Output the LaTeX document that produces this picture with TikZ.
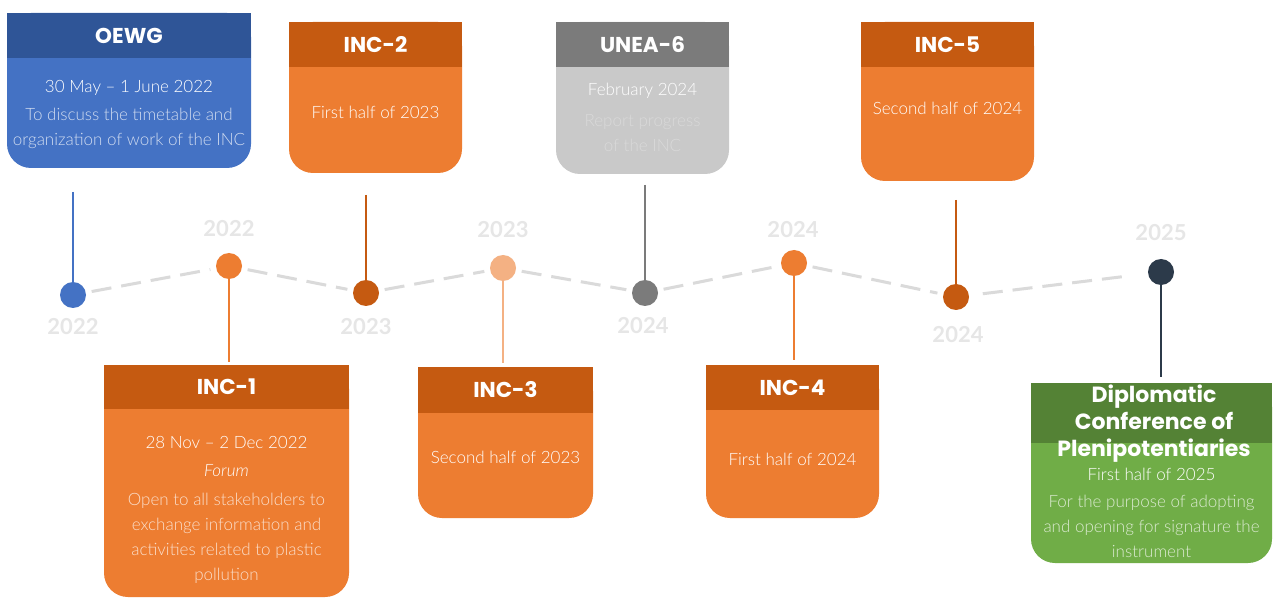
\documentclass[tikz,border=0pt]{standalone}
\usepackage{fontspec}
\setmainfont{Lato Light}[ItalicFont={Lato Light Italic}, BoldFont={Lato Bold}]
\newfontfamily\pop{Poppins}
\definecolor{blueH}{HTML}{2F5597}
\definecolor{blueB}{HTML}{4472C4}
\definecolor{orH}{HTML}{C55A11}
\definecolor{orB}{HTML}{ED7D31}
\definecolor{orL}{HTML}{F4B183}
\definecolor{grayH}{HTML}{7B7B7B}
\definecolor{grayB}{HTML}{C9C9C9}
\definecolor{greenH}{HTML}{548235}
\definecolor{greenB}{HTML}{70AD47}
\definecolor{navy}{HTML}{2C3A4A}
\definecolor{yeargray}{HTML}{E6E6E6}
\definecolor{dashgray}{HTML}{DADADA}
\tikzset{
  boxbody/.style={rounded corners=24pt, anchor=north west, inner sep=0pt, outer sep=0pt},
  boxhead/.style={anchor=north west, inner sep=0pt, outer sep=0pt, text=white,
    font=\pop\bfseries\fontsize{21.5}{24}\selectfont},
  txt/.style={text=white, font=\fontsize{17}{25}\selectfont, align=center, inner sep=0pt},
  faint/.style={txt, text opacity=0.75},
  year/.style={text=yeargray, font=\bfseries\fontsize{22}{22}\selectfont, inner sep=0pt},
  dot/.style={circle, minimum size=26pt, inner sep=0pt, outer sep=0pt},
  stem/.style={line width=2pt},
  dashline/.style={draw=dashgray, line width=3pt, dash pattern=on 20pt off 10pt,
    shorten <=6pt, shorten >=6pt}
}
\begin{document}
\begin{tikzpicture}[x=1pt, y=-1pt]
\useasboundingbox[fill=white] (0,0) rectangle (1273,601);

% ---------- top boxes ----------
% OEWG
\node[boxbody, fill=blueB, minimum width=244pt, minimum height=155pt] (oewgB) at (7,13) {};
\node[boxhead, fill=blueH, minimum width=244pt, minimum height=45pt] (oewgH) at (7,13) {OEWG};
\node[txt] (oewgT1) at (129,88) {30 May – 1 June 2022};
\node[faint] (oewgT2) at (129,128) {To discuss the timetable and\\organization of work of the INC};

% INC-2
\node[boxbody, fill=orB, minimum width=173pt, minimum height=151pt] (inc2B) at (289,22) {};
\node[boxhead, fill=orH, minimum width=173pt, minimum height=45pt] (inc2H) at (289,22) {INC-2};
\node[txt] (inc2T1) at (375.5,112) {First half of 2023};

% UNEA-6
\node[boxbody, fill=grayB, minimum width=173pt, minimum height=152pt] (uneaB) at (556,22) {};
\node[boxhead, fill=grayH, minimum width=173pt, minimum height=45pt] (uneaH) at (556,22) {UNEA-6};
\node[txt] (uneaT1) at (642.5,91) {February 2024};
\node[txt, text opacity=0.3] (uneaT2) at (642.5,133) {Report progress\\of the INC};

% INC-5
\node[boxbody, fill=orB, minimum width=173pt, minimum height=159pt] (inc5B) at (861,22) {};
\node[boxhead, fill=orH, minimum width=173pt, minimum height=45pt] (inc5H) at (861,22) {INC-5};
\node[txt] (inc5T1) at (947.5,108) {Second half of 2024};

% ---------- bottom boxes ----------
% INC-1
\node[boxbody, fill=orB, minimum width=245pt, minimum height=232pt] (inc1B) at (104,365) {};
\node[boxhead, fill=orH, minimum width=245pt, minimum height=44pt] (inc1H) at (104,365) {INC-1};
\node[txt] (inc1T1) at (226.5,442) {28 Nov – 2 Dec 2022};
\node[txt, font=\itshape\fontsize{17}{25}\selectfont] (inc1T2) at (226.5,471) {Forum};
\node[faint] (inc1T3) at (226.5,538) {Open to all stakeholders to\\exchange information and\\activities related to plastic\\pollution};

% INC-3
\node[boxbody, fill=orB, minimum width=175pt, minimum height=151pt] (inc3B) at (418,367) {};
\node[boxhead, fill=orH, minimum width=175pt, minimum height=46pt] (inc3H) at (418,367) {INC-3};
\node[txt] (inc3T1) at (505.5,457) {Second half of 2023};

% INC-4
\node[boxbody, fill=orB, minimum width=173pt, minimum height=153pt] (inc4B) at (706,365) {};
\node[boxhead, fill=orH, minimum width=173pt, minimum height=45pt] (inc4H) at (706,365) {INC-4};
\node[txt] (inc4T1) at (792.5,459) {First half of 2024};

% Diplomatic Conference
\node[boxbody, fill=greenB, minimum width=241pt, minimum height=180pt] (dipB) at (1031,383) {};
\node[boxhead, fill=greenH, minimum width=241pt, minimum height=60pt] (dipH) at (1031,383) {};
\node[text=white, inner sep=0pt, align=center, font=\pop\bfseries\fontsize{22}{27}\selectfont] (dipTitle) at (1154,424) {Diplomatic\\Conference of\\Plenipotentiaries};
\node[txt] (dipT1) at (1151.5,474) {First half of 2025};
\node[faint] (dipT2) at (1151.5,526) {For the purpose of adopting\\and opening for signature the\\instrument};

% ---------- timeline ----------
\node[dot, fill=blueB] (d1) at (73,295) {};
\node[dot, fill=orB] (d2) at (229,266) {};
\node[dot, fill=orH] (d3) at (366,293) {};
\node[dot, fill=orL] (d4) at (503,268) {};
\node[dot, fill=grayH] (d5) at (645,293) {};
\node[dot, fill=orB] (d6) at (794,263) {};
\node[dot, fill=orH] (d7) at (956,297) {};
\node[dot, fill=navy] (d8) at (1161,272) {};

\draw[dashline] (d1) -- (d2);
\draw[dashline] (d2) -- (d3);
\draw[dashline] (d3) -- (d4);
\draw[dashline] (d4) -- (d5);
\draw[dashline] (d5) -- (d6);
\draw[dashline] (d6) -- (d7);
\draw[dashline, shorten >=18pt, shorten <=14pt] (d7) -- (d8);

\node[year] (y1) at (73,327) {2022};
\node[year] (y2) at (229,229) {2022};
\node[year] (y3) at (366,327) {2023};
\node[year] (y4) at (503,230) {2023};
\node[year] (y5) at (643,326) {2024};
\node[year] (y6) at (793,230) {2024};
\node[year] (y7) at (958,335) {2024};
\node[year] (y8) at (1161,233) {2025};

% stems
\coordinate (s1) at (73,192);
\coordinate (s2) at (229,362);
\coordinate (s3) at (366,195);
\coordinate (s4) at (503,363);
\coordinate (s5) at (645,185);
\coordinate (s6) at (794,360);
\coordinate (s7) at (956,200);
\coordinate (s8) at (1161,377);
\draw[stem, blueB] (s1) -- (d1);
\draw[stem, orB] (d2) -- (s2);
\draw[stem, orH] (s3) -- (d3);
\draw[stem, orL] (d4) -- (s4);
\draw[stem, grayH] (s5) -- (d5);
\draw[stem, orB] (d6) -- (s6);
\draw[stem, orH] (s7) -- (d7);
\draw[stem, navy] (d8) -- (s8);
\end{tikzpicture}
\end{document}
